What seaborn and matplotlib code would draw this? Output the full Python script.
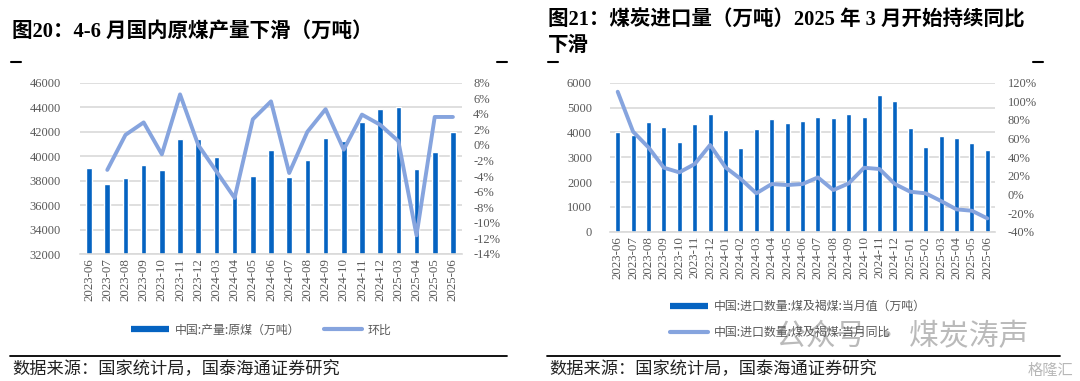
import numpy as np
import pandas as pd
import seaborn as sns
import matplotlib
matplotlib.use("Agg")
import matplotlib.pyplot as plt
from matplotlib.lines import Line2D
from matplotlib.ticker import FuncFormatter, MultipleLocator

# ---------------- data ----------------
prod_months = ['2023-06', '2023-07', '2023-08', '2023-09', '2023-10', '2023-11', '2023-12',
               '2024-03', '2024-04', '2024-05', '2024-06', '2024-07', '2024-08', '2024-09',
               '2024-10', '2024-11', '2024-12', '2025-03', '2025-04', '2025-05', '2025-06']
prod_values = [39000, 37750, 38180, 39240, 38830, 41370, 41420,
               39920, 36750, 38340, 40520, 38300, 39680, 41460,
               41200, 42790, 43880, 44040, 38940, 40330, 41970]
prod_mom = [np.nan, -3.2, 1.3, 2.9, -1.2, 6.5, 0.0,
            -3.4, -6.8, 3.3, 5.6, -3.6, 1.7, 4.6,
            -0.6, 3.9, 2.6, 0.5, -11.6, 3.6, 3.6]

imp_months = ['2023-06', '2023-07', '2023-08', '2023-09', '2023-10', '2023-11', '2023-12',
              '2024-01', '2024-02', '2024-03', '2024-04', '2024-05', '2024-06', '2024-07',
              '2024-08', '2024-09', '2024-10', '2024-11', '2024-12', '2025-01', '2025-02',
              '2025-03', '2025-04', '2025-05', '2025-06']
imp_values = [4000, 3900, 4420, 4200, 3600, 4340, 4750,
              4080, 3380, 4130, 4540, 4380, 4460, 4620,
              4580, 4750, 4620, 5490, 5250, 4160, 3420,
              3870, 3790, 3590, 3290]
imp_yoy = [110.3, 67.4, 50.5, 28.7, 23.7, 32.7, 53.1,
           29.1, 16.5, 1.2, 11.2, 10.1, 11.2, 18.3,
           4.7, 11.9, 28.7, 27.3, 11.2, 2.9, 1.2,
           -7.1, -16.0, -17.5, -25.7]

title_left = '图20：4-6 月国内原煤产量下滑（万吨）'
title_right_1 = '图21：煤炭进口量（万吨）2025 年 3 月开始持续同比'
title_right_2 = '下滑'
legend_left = ['中国:产量:原煤（万吨）', '环比']
legend_right = ['中国:进口数量:煤及褐煤:当月值（万吨）', '中国:进口数量:煤及褐煤:当月同比']
source = '数据来源：国家统计局，国泰海通证券研究'

# ---------------- style ----------------
BAR = '#0563C1'
LINE = '#86A4DE'
GRID = '#D9D9D9'
TICK = '#595959'

sns.set_theme(style='white')
plt.rcParams['font.family'] = ['Liberation Serif', 'Noto Sans CJK SC', 'DejaVu Sans']
plt.rcParams['axes.unicode_minus'] = False

W, H = 1080, 381
fig = plt.figure(figsize=(W / 100, H / 100), dpi=100)


def fx(px):
    return px / W


def fy(py):
    return 1 - py / H


def style_axes(ax, axr, lpad, rpad):
    for a in (ax, axr):
        for s in a.spines.values():
            s.set_visible(False)
    ax.spines['bottom'].set_visible(True)
    ax.spines['bottom'].set_color(GRID)
    ax.spines['bottom'].set_linewidth(1.2)
    ax.grid(axis='y', color=GRID, linewidth=1.2)
    ax.set_axisbelow(True)
    ax.set_xlabel('')
    ax.set_ylabel('')
    axr.set_ylabel('')
    ax.tick_params(axis='y', length=0, pad=lpad, labelsize=9, labelcolor=TICK)
    axr.tick_params(axis='y', length=0, pad=rpad, labelsize=9, labelcolor=TICK)
    ax.tick_params(axis='x', length=0, pad=3, labelsize=9.3, labelcolor=TICK, rotation=90)


# ---------------- left chart ----------------
ax1 = fig.add_axes([fx(80), fy(254), fx(462 - 80), (254 - 82.7) / H])
df1 = pd.DataFrame({'month': prod_months, 'value': prod_values})
sns.barplot(data=df1, x='month', y='value', color=BAR, saturation=1, width=0.31, ax=ax1)
ax1r = ax1.twinx()
sns.lineplot(x=np.arange(len(prod_months)), y=prod_mom, color=LINE, linewidth=2.8, ax=ax1r)
ax1.set_xlim(-0.5, len(prod_months) - 0.5)
ax1.set_ylim(32000, 46000)
ax1.yaxis.set_major_locator(MultipleLocator(2000))
ax1r.set_ylim(-14, 8)
ax1r.yaxis.set_major_locator(MultipleLocator(2))
ax1r.yaxis.set_major_formatter(FuncFormatter(lambda v, p: f'{v:.0f}%'))
style_axes(ax1, ax1r, 14, 8)

# ---------------- right chart ----------------
ax2 = fig.add_axes([fx(610), fy(231.7), fx(995 - 610), (231.7 - 82.7) / H])
df2 = pd.DataFrame({'month': imp_months, 'value': imp_values})
sns.barplot(data=df2, x='month', y='value', color=BAR, saturation=1, width=0.33, ax=ax2)
ax2r = ax2.twinx()
sns.lineplot(x=np.arange(len(imp_months)), y=imp_yoy, color=LINE, linewidth=2.8, ax=ax2r)
ax2.set_xlim(-0.5, len(imp_months) - 0.5)
ax2.set_ylim(0, 6000)
ax2.yaxis.set_major_locator(MultipleLocator(1000))
ax2r.set_ylim(-40, 120)
ax2r.yaxis.set_major_locator(MultipleLocator(20))
ax2r.yaxis.set_major_formatter(FuncFormatter(lambda v, p: f'{v:.0f}%'))
style_axes(ax2, ax2r, 13, 9)

# ---------------- legends ----------------
h_bar = Line2D([], [], color=BAR, linewidth=4.5, solid_capstyle='butt')
h_line = Line2D([], [], color=LINE, linewidth=3, solid_capstyle='round')
leg_font = {'family': ['Noto Sans CJK SC', 'DejaVu Sans'], 'size': 8.6}
lg1 = fig.legend([h_bar, h_line], legend_left, loc='center', bbox_to_anchor=(fx(261), fy(330)),
                 ncol=2, frameon=False, prop=leg_font, handlelength=3.2, handletextpad=0.45,
                 columnspacing=2.0, borderpad=0, borderaxespad=0)
lg2 = fig.legend([h_bar, h_line], legend_right, loc='center left', bbox_to_anchor=(fx(670), fy(319.5)),
                 ncol=1, frameon=False, prop=leg_font, handlelength=3.2, handletextpad=0.45,
                 labelspacing=1.05, borderpad=0, borderaxespad=0)
for lg in (lg1, lg2):
    for t in lg.get_texts():
        t.set_color(TICK)

# ---------------- titles / decorations ----------------
tfont = ['Liberation Serif', 'Noto Sans CJK SC']
fig.text(fx(12), fy(33), title_left, fontsize=14.8, fontweight='bold', family=tfont,
         va='center', ha='left', color='black')
fig.text(fx(548), fy(20), title_right_1, fontsize=14.8, fontweight='bold', family=tfont,
         va='center', ha='left', color='black')
fig.text(fx(548), fy(46), title_right_2, fontsize=14.8, fontweight='bold', family=tfont,
         va='center', ha='left', color='black')

for x0 in (11, 497, 548, 1033):
    fig.add_artist(Line2D([fx(x0), fx(x0 + 10)], [fy(62), fy(62)], color='black', linewidth=1.5))

fig.add_artist(Line2D([fx(10), fx(507)], [fy(356), fy(356)], color='black', linewidth=1.3))
fig.add_artist(Line2D([fx(547), fx(1060)], [fy(356), fy(356)], color='black', linewidth=1.3))

sfont = ['Noto Sans CJK SC', 'DejaVu Sans']
fig.text(fx(12), fy(369), source, fontsize=12.4, family=sfont, va='center', ha='left', color='#222222')
fig.text(fx(549), fy(369), source, fontsize=12.4, family=sfont, va='center', ha='left', color='#222222')

# watermark
fig.text(fx(776), fy(337), '公众号 · 煤炭涛声', fontsize=21.5, family=sfont, va='center', ha='left',
         color='#8C8C8C', alpha=0.6)
fig.text(fx(1028), fy(370), '格隆汇', fontsize=11, family=sfont, va='center', ha='left',
         color='#B0B0B0', alpha=0.9)

fig.savefig('out.png', dpi=100, facecolor='white')
